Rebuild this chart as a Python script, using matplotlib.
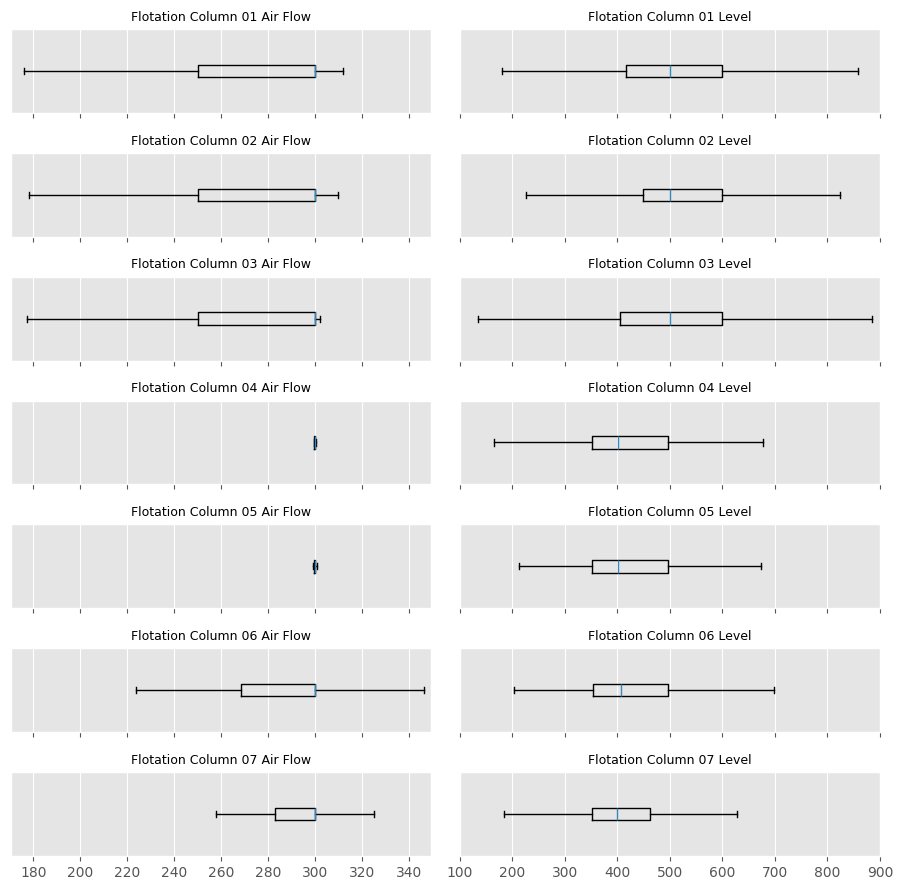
import matplotlib
matplotlib.use("Agg")
import matplotlib.pyplot as plt

plt.style.use("ggplot")

columns = ["01", "02", "03", "04", "05", "06", "07"]

# air flow box stats
air_whislo = [175.9, 178.3, 177.2, 299.6, 299.3, 223.9, 257.7]
air_q1 = [250.0, 250.0, 250.0, 299.8, 299.7, 268.5, 283.0]
air_med = [300.0, 300.0, 300.0, 300.0, 300.0, 300.0, 300.0]
air_q3 = [300.0, 300.0, 300.0, 300.1, 300.1, 300.0, 300.0]
air_whishi = [312.0, 309.7, 302.2, 300.4, 300.8, 346.7, 325.0]

# level box stats
lvl_whislo = [180.6, 225.0, 134.0, 165.4, 213.0, 202.9, 183.8]
lvl_q1 = [416.8, 449.0, 405.0, 350.8, 350.8, 354.0, 350.8]
lvl_med = [500.0, 500.0, 500.0, 401.6, 401.6, 407.3, 399.7]
lvl_q3 = [600.0, 600.0, 600.0, 496.8, 496.8, 496.8, 462.0]
lvl_whishi = [858.7, 824.4, 885.0, 676.5, 674.0, 698.7, 628.2]


def stats(lo, q1, med, q3, hi):
    return [{"whislo": lo, "q1": q1, "med": med, "q3": q3, "whishi": hi, "fliers": []}]


fig, axes = plt.subplots(7, 2, figsize=(9.03, 8.90), dpi=100, sharex="col")

for i, c in enumerate(columns):
    ax = axes[i, 0]
    ax.bxp(stats(air_whislo[i], air_q1[i], air_med[i], air_q3[i], air_whishi[i]),
           orientation="horizontal", showfliers=False)
    ax.set_title("Flotation Column " + c + " Air Flow", fontsize=9)
    ax.set_yticks([])
    ax.set_xlim(170.5, 349.5)

    ax = axes[i, 1]
    ax.bxp(stats(lvl_whislo[i], lvl_q1[i], lvl_med[i], lvl_q3[i], lvl_whishi[i]),
           orientation="horizontal", showfliers=False)
    ax.set_title("Flotation Column " + c + " Level", fontsize=9)
    ax.set_yticks([])
    ax.set_xlim(100, 900)

# match the reference layout
fig.subplots_adjust(left=11 / 903, right=880 / 903, top=1 - 29 / 890,
                    bottom=1 - 856 / 890, wspace=0.069, hspace=0.476)
fig.savefig("out.png")
